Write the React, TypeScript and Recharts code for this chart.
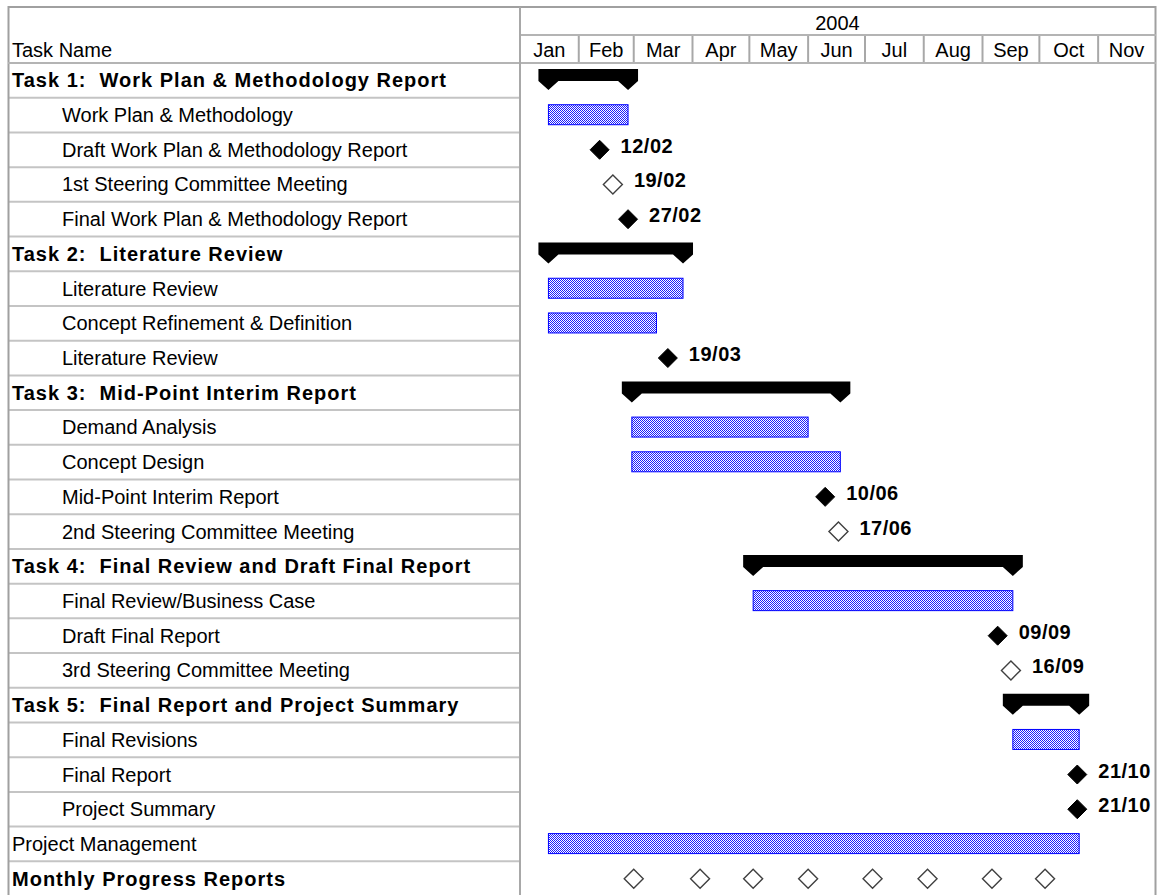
import React from 'react';
import { ComposedChart, Bar, Scatter, XAxis, YAxis } from 'recharts';

const YEAR = 2004;
const yearLabel = '2004';
const monthNames = ['Jan', 'Feb', 'Mar', 'Apr', 'May', 'Jun', 'Jul', 'Aug', 'Sep', 'Oct', 'Nov'];

const taskNames = [
  'Task 1:  Work Plan & Methodology Report',
  'Work Plan & Methodology',
  'Draft Work Plan & Methodology Report',
  '1st Steering Committee Meeting',
  'Final Work Plan & Methodology Report',
  'Task 2:  Literature Review',
  'Literature Review',
  'Concept Refinement & Definition',
  'Literature Review',
  'Task 3:  Mid-Point Interim Report',
  'Demand Analysis',
  'Concept Design',
  'Mid-Point Interim Report',
  '2nd Steering Committee Meeting',
  'Task 4:  Final Review and Draft Final Report',
  'Final Review/Business Case',
  'Draft Final Report',
  '3rd Steering Committee Meeting',
  'Task 5:  Final Report and Project Summary',
  'Final Revisions',
  'Final Report',
  'Project Summary',
  'Project Management',
  'Monthly Progress Reports',
];

// 0 = top level, 1 = indented subtask
const taskLevels = [0, 1, 1, 1, 1, 0, 1, 1, 1, 0, 1, 1, 1, 1, 0, 1, 1, 1, 0, 1, 1, 1, 0, 0];

const rowTypes = [
  'summary', 'task', 'milestone', 'meeting', 'milestone',
  'summary', 'task', 'task', 'milestone',
  'summary', 'task', 'task', 'milestone', 'meeting',
  'summary', 'task', 'milestone', 'meeting',
  'summary', 'task', 'milestone', 'milestone',
  'task', 'recurring',
];

// dd/mm dates in 2004
const barStarts: (string | null)[] = [
  '16/01', '16/01', null, null, null,
  '16/01', '16/01', '16/01', null,
  '29/02', '29/02', '29/02', null, null,
  '03/05', '03/05', null, null,
  '17/09', '17/09', null, null,
  '16/01', null,
];

const barEnds: (string | null)[] = [
  '27/02', '27/02', null, null, null,
  '27/03', '27/03', '13/03', null,
  '18/06', '01/06', '18/06', null, null,
  '17/09', '17/09', null, null,
  '22/10', '22/10', null, null,
  '22/10', null,
];

const milestoneDates: (string | null)[] = [
  null, null, '12/02', '19/02', '27/02',
  null, null, null, '19/03',
  null, null, null, '10/06', '17/06',
  null, null, '09/09', '16/09',
  null, null, '21/10', '21/10',
  null, null,
];

const progressReportDates = ['01/03', '05/04', '03/05', '01/06', '05/07', '03/08', '06/09', '04/10'];

const FONT = "'Liberation Sans', Arial, sans-serif";
const CHART_W = 1159;
const CHART_H = 896;
const MARGIN_TOP = 7;
const HEADER_H = 28;
const NAME_W = 520;
const ROW_H = (CHART_H - MARGIN_TOP - 2 * HEADER_H) / taskNames.length;

const dayOf = (d: string) => {
  const [dd, mm] = d.split('/').map(Number);
  return (Date.UTC(YEAR, mm - 1, dd) - Date.UTC(YEAR, 0, 1)) / 86400000;
};

const monthStarts = monthNames.map((_, i) => dayOf(`01/${String(i + 1).padStart(2, '0')}`));
const yearEnd = dayOf(`01/${String(monthNames.length + 1).padStart(2, '0')}`);
const monthEdges = [...monthStarts, yearEnd];
const monthMids = monthNames.map((_, i) => (monthEdges[i] + monthEdges[i + 1]) / 2);
const monthTicks = [...monthStarts.slice(1), ...monthMids];

const rows = taskNames.map((name, i) => ({
  id: `r${i}`,
  name,
  kind: rowTypes[i],
  span: barStarts[i] && barEnds[i] ? [dayOf(barStarts[i] as string), dayOf(barEnds[i] as string)] : null,
}));

const milestonePoints = [
  ...milestoneDates
    .map((d, i) => (d ? { row: i, day: dayOf(d), hollow: rowTypes[i] === 'meeting', label: d } : null))
    .filter(Boolean),
  ...progressReportDates.map((d) => ({ row: taskNames.length - 1, day: dayOf(d), hollow: true, label: '' })),
];

const MonthTick = (props: any) => {
  const { x, y, payload } = props;
  const m = monthMids.indexOf(payload.value);
  if (m < 0) {
    return <line x1={x} x2={x} y1={y} y2={y - HEADER_H} stroke="#a8a8a8" strokeWidth={2} />;
  }
  return (
    <text x={x} y={y - 6} textAnchor="middle" fontFamily={FONT} fontSize={20} fill="#000">
      {monthNames[m]}
    </text>
  );
};

const YearTick = (props: any) => {
  const { x, y } = props;
  return (
    <text x={x} y={y - 5} textAnchor="middle" fontFamily={FONT} fontSize={20} fill="#000">
      {yearLabel}
    </text>
  );
};

const NameTick = (props: any) => {
  const { x, y, index } = props;
  const left = x - NAME_W;
  const bold = rowTypes[index] === 'summary' || rowTypes[index] === 'recurring';
  return (
    <g>
      <line x1={left + 8} x2={x} y1={y + ROW_H / 2} y2={y + ROW_H / 2} stroke="#c4c4c4" strokeWidth={2} />
      <text
        x={left + (taskLevels[index] ? 62 : 12)}
        y={y + 7}
        fontFamily={FONT}
        fontSize={20}
        fontWeight={bold ? 'bold' : 'normal'}
        letterSpacing={bold ? 1 : 0}
        fill="#000"
        style={{ whiteSpace: 'pre' }}
      >
        {taskNames[index]}
      </text>
    </g>
  );
};

const TaskShape = (props: any) => {
  const { x, y, width, height, payload } = props;
  if (!payload || !payload.span || !isFinite(x) || !isFinite(width)) return <g />;
  const cy = y + height / 2;
  if (payload.kind === 'summary') {
    const x0 = x;
    const x1 = x + width;
    const top = cy - 11;
    const flat = cy + 1;
    const tip = cy + 10;
    const d = `M${x0 - 10},${top} H${x1 + 10} V${flat} L${x1},${tip} L${x1 - 10},${flat} H${x0 + 10} L${x0},${tip} L${x0 - 10},${flat} Z`;
    return <path d={d} fill="#000" />;
  }
  return (
    <rect x={x} y={cy - 10} width={width} height={20} fill="url(#taskDots)" stroke="#0000ff" strokeWidth={1} />
  );
};

const MilestoneShape = (props: any) => {
  const { cx, cy, payload } = props;
  const r = 9.5;
  const d = `M${cx},${cy - r} L${cx + r},${cy} L${cx},${cy + r} L${cx - r},${cy} Z`;
  return (
    <g>
      <path
        d={d}
        fill={payload.hollow ? '#ffffff' : '#000000'}
        stroke={payload.hollow ? '#404040' : '#000000'}
        strokeWidth={payload.hollow ? 1.4 : 1}
      />
      {payload.label ? (
        <text x={cx + 21} y={cy + 3} fontFamily={FONT} fontSize={20} fontWeight="bold" letterSpacing={0.5} fill="#000">
          {payload.label}
        </text>
      ) : null}
    </g>
  );
};

const App: React.FC = () => {
  return (
    <div
      style={{
        position: 'absolute',
        left: 0,
        top: 0,
        width: CHART_W,
        height: 895,
        overflow: 'hidden',
        background: '#ffffff',
      }}
    >
      <ComposedChart
        width={CHART_W}
        height={CHART_H}
        data={rows}
        layout="vertical"
        margin={{ top: MARGIN_TOP, right: 4, bottom: 0, left: 0 }}
      >
        <defs>
          <pattern id="taskDots" width="2" height="2" patternUnits="userSpaceOnUse">
            <rect width="2" height="2" fill="#ffffff" />
            <rect width="1" height="1" fill="#1a1aff" />
            <rect x="1" y="1" width="1" height="1" fill="#1a1aff" />
          </pattern>
        </defs>
        <XAxis
          xAxisId="month"
          type="number"
          orientation="top"
          domain={[0, yearEnd]}
          allowDataOverflow
          ticks={monthTicks}
          interval={0}
          height={HEADER_H}
          tickSize={0}
          tickMargin={0}
          axisLine={false}
          tickLine={false}
          tick={(p: any) => <MonthTick {...p} />}
        />
        <XAxis
          xAxisId="year"
          type="number"
          orientation="top"
          domain={[0, yearEnd]}
          allowDataOverflow
          ticks={[yearEnd / 2]}
          interval={0}
          height={HEADER_H}
          tickSize={0}
          tickMargin={0}
          axisLine={false}
          tickLine={false}
          tick={(p: any) => <YearTick {...p} />}
        />
        <YAxis
          yAxisId="cat"
          type="category"
          dataKey="id"
          width={NAME_W}
          interval={0}
          tickSize={0}
          tickMargin={0}
          axisLine={false}
          tickLine={false}
          allowDuplicatedCategory={false}
          tick={(p: any) => <NameTick {...p} />}
        />
        <YAxis
          yAxisId="rows"
          type="number"
          dataKey="row"
          domain={[-0.5, taskNames.length - 0.5]}
          allowDataOverflow
          hide
        />
        <Bar
          xAxisId="month"
          yAxisId="cat"
          dataKey="span"
          barSize={20}
          shape={(p: any) => <TaskShape {...p} />}
          isAnimationActive={false}
        />
        <Scatter
          xAxisId="month"
          yAxisId="rows"
          data={milestonePoints as any[]}
          dataKey="day"
          shape={(p: any) => <MilestoneShape {...p} />}
          isAnimationActive={false}
        />
      </ComposedChart>
      <svg
        width={CHART_W}
        height={895}
        style={{ position: 'absolute', left: 0, top: 0, pointerEvents: 'none' }}
      >
        <rect x={8.5} y={7} width={1147} height={900} fill="none" stroke="#a0a0a0" strokeWidth={2} />
        <line x1={NAME_W} x2={1156} y1={35} y2={35} stroke="#b4b4b4" strokeWidth={2} />
        <line x1={8} x2={1156} y1={63} y2={63} stroke="#b4b4b4" strokeWidth={2} />
        <line x1={NAME_W} x2={NAME_W} y1={7} y2={895} stroke="#a8a8a8" strokeWidth={2} />
        <text x={12} y={57} fontFamily={FONT} fontSize={20} fill="#000">
          Task Name
        </text>
      </svg>
    </div>
  );
};

export default App;
